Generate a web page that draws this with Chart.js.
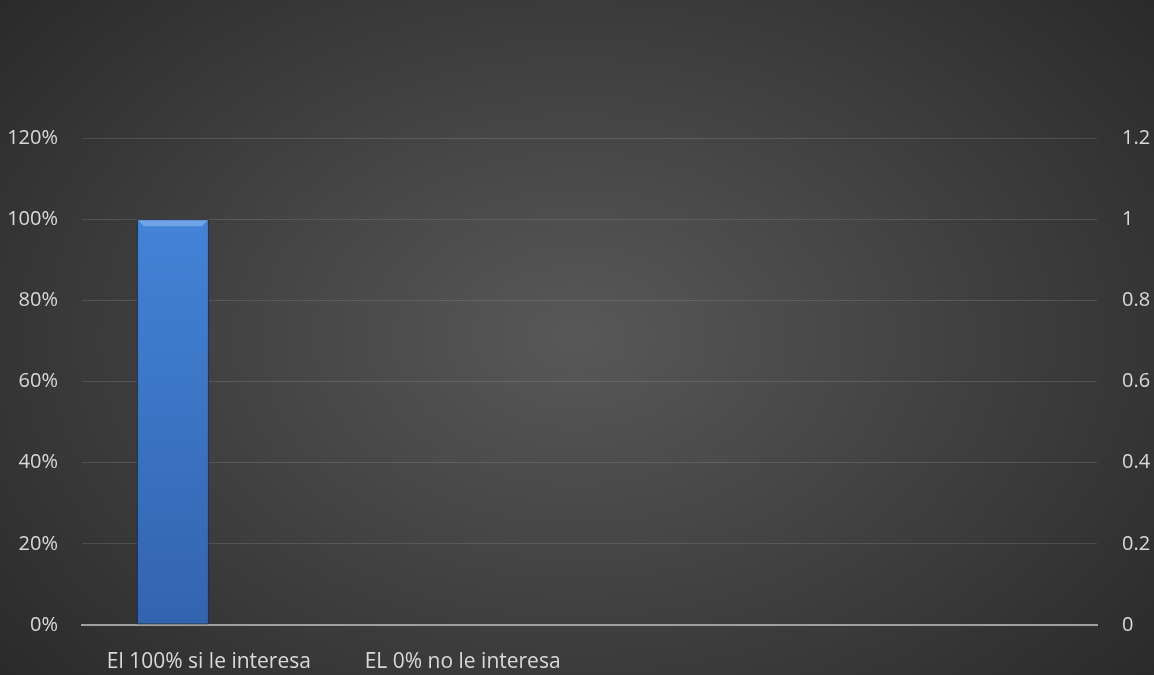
<!DOCTYPE html>
<html>
<head>
<meta charset="utf-8">
<script src="https://cdn.jsdelivr.net/npm/chart.js@4"></script>
<style>
  html, body { margin: 0; padding: 0; }
  #wrap {
    width: 1154px; height: 675px;
    background: radial-gradient(ellipse 75% 90% at 50% 50%, #585858 0%, #3b3b3b 55%, #232323 100%);
  }
</style>
</head>
<body>
<div id="wrap"><canvas id="myBarChart" width="1154" height="675"></canvas></div>
<script>
const categories = ['El 100% si le interesa', 'EL 0% no le interesa', '', ''];
const interest = [1, 0, null, null];
const secondary = [null, null, null, null];
const leftTicks = ['0%', '20%', '40%', '60%', '80%', '100%', '120%'];
const rightTicks = ['0', '0.2', '0.4', '0.6', '0.8', '1', '1.2'];

const labelColor = '#d9d9d9';
Chart.defaults.font.family = '"Open Sans", "Liberation Sans", sans-serif';
Chart.defaults.font.size = 20;

function barFill(ctx) {
    const area = ctx.chart.chartArea;
    if (!area) return '#3f7fd6';
    const g = ctx.chart.ctx.createLinearGradient(0, area.top, 0, area.bottom);
    g.addColorStop(0, '#4789de');
    g.addColorStop(1, '#3264b0');
    return g;
}

// light bevel along the top edge of each bar
const bevel = {
    id: 'bevel',
    afterDatasetsDraw(chart) {
        const c = chart.ctx;
        chart.getDatasetMeta(0).data.forEach((bar, i) => {
            if (!interest[i]) return;
            const left = bar.x - bar.width / 2, right = bar.x + bar.width / 2;
            c.save();
            c.fillStyle = 'rgba(140,185,240,0.6)';
            c.beginPath();
            c.moveTo(left + 1, bar.y + 1);
            c.lineTo(right - 1, bar.y + 1);
            c.lineTo(right - 7, bar.y + 7);
            c.lineTo(left + 7, bar.y + 7);
            c.closePath();
            c.fill();
            c.restore();
        });
    }
};

const config = {
    type: 'bar',
    data: {
        labels: categories,
        datasets: [{
            label: 'Interés',
            data: interest,
            yAxisID: 'y',
            backgroundColor: barFill,
            borderColor: 'rgba(25,45,85,0.9)',
            borderWidth: 1,
            borderSkipped: false
        }, {
            label: 'Serie 2',
            data: secondary,
            yAxisID: 'y1',
            backgroundColor: '#c0504d'
        }]
    },
    options: {
        responsive: false,
        animation: false,
        categoryPercentage: 0.567,
        barPercentage: 1,
        layout: { padding: { top: 138, left: 0, right: 0, bottom: 0 } },
        plugins: { legend: { display: false }, tooltip: { enabled: false } },
        scales: {
            x: {
                grid: { display: false },
                border: { color: '#a0a0a0', width: 2 },
                ticks: { color: labelColor, padding: 16, maxRotation: 0, autoSkip: false, font: { size: 21 } },
                afterFit: (axis) => { axis.height = 50; }
            },
            y: {
                position: 'left',
                min: 0, max: 1.2,
                ticks: {
                    stepSize: 0.2, color: labelColor, padding: 24,
                    callback: (v, i) => leftTicks[i]
                },
                grid: { color: 'rgba(255,255,255,0.12)', drawTicks: false },
                border: { display: false },
                afterFit: (axis) => { axis.width = 82; }
            },
            y1: {
                position: 'right',
                min: 0, max: 1.2,
                ticks: {
                    stepSize: 0.2, color: labelColor, padding: 25,
                    callback: (v, i) => rightTicks[i]
                },
                grid: { display: false, drawTicks: false },
                border: { display: false },
                afterFit: (axis) => { axis.width = 57; }
            }
        }
    },
    plugins: [bevel]
};

new Chart(document.querySelector('#myBarChart'), config);
</script>
</body>
</html>
